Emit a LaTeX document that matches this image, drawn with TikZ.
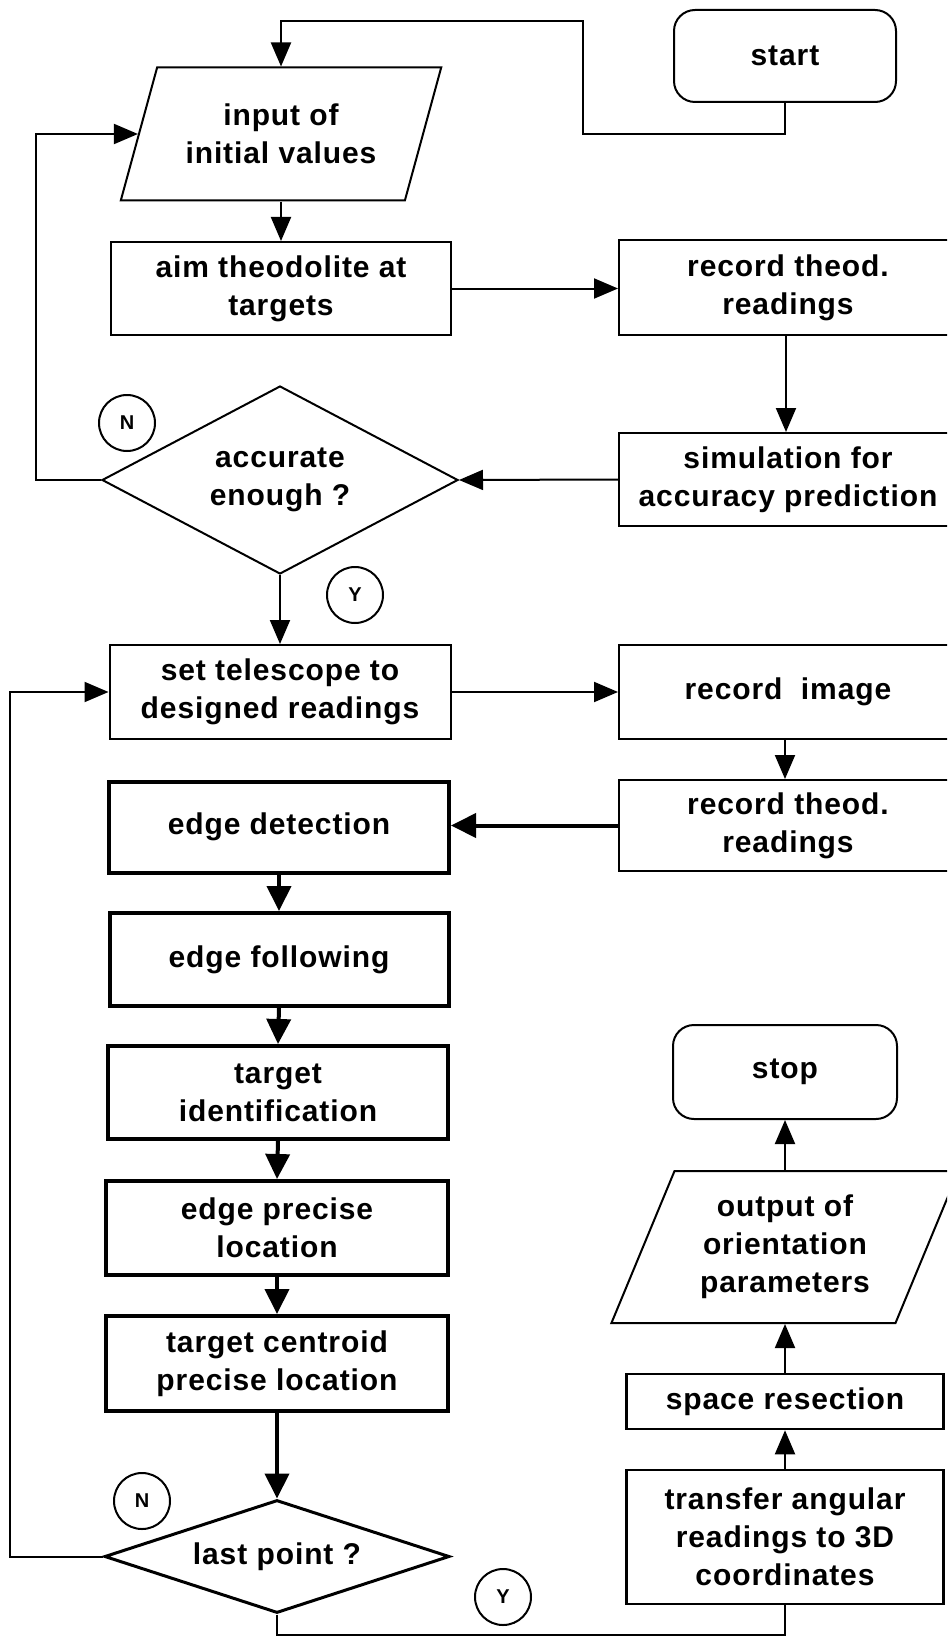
\documentclass[tikz,border=0pt]{standalone}
\usepackage{fontspec}
\setmainfont{Liberation Sans}[LetterSpace=3]
\usetikzlibrary{shapes.geometric,arrows.meta}

\tikzset{
  lbl/.style={font=\fontsize{30}{38}\selectfont\bfseries, align=center, inner sep=0pt},
  box/.style={lbl, draw, line width=2pt, rectangle},
  heavybox/.style={lbl, draw, line width=4pt, rectangle},
  term/.style={box, rounded corners=21pt},
  io/.style={lbl, draw, line width=2pt, trapezium, trapezium left angle=65,
    trapezium right angle=115, trapezium stretches=true},
  decision/.style={lbl, draw, diamond},
  flag/.style={draw, circle, line width=2pt, minimum size=56pt, inner sep=0pt,
    font=\fontsize{20}{20}\selectfont\bfseries},
  flow/.style={line width=2pt, -{Triangle[length=24pt,width=20pt]}},
  heavyflow/.style={line width=4pt, -{Triangle[length=25pt,width=24pt]}},
  plain/.style={line width=2pt}
}

\begin{document}
\begin{tikzpicture}[x=1pt,y=-1pt]
\useasboundingbox (0,0) rectangle (947,1637);
\clip (0,0) rectangle (947,1637);
\fill[white] (0,0) rectangle (947,1637);

% ---- upper loop: set-up of the theodolite ----
\node[term, minimum width=222pt, minimum height=92pt] (start) at (785,56) {start};
\node[io, minimum width=321pt, minimum height=133pt] (input) at (281,134) {input of\\initial values};
\node[box, minimum width=340pt, minimum height=93pt] (aim) at (281,288.5) {aim theodolite at\\targets};
\node[box, minimum width=338pt, minimum height=95pt] (rec1) at (788,287.5) {record theod.\\readings};
\node[box, minimum width=338pt, minimum height=93pt] (sim) at (788,479.5) {simulation for\\accuracy prediction};
\node[decision, aspect=1.9, line width=2pt, minimum width=356pt, minimum height=188pt] (acc) at (280,480) {accurate\\enough ?};
\node[flag] (n1) at (127,423) {N};
\node[flag] (y1) at (355,595) {Y};

% ---- measuring loop ----
\node[box, minimum width=341pt, minimum height=94pt] (set) at (280,692) {set telescope to\\designed readings};
\node[box, minimum width=338pt, minimum height=94pt] (recimg) at (788,692) {record~~image};
\node[box, minimum width=338pt, minimum height=91pt] (rec2) at (788,825.5) {record theod.\\readings};
\node[heavybox, minimum width=340pt, minimum height=91pt] (edet) at (279,827) {edge detection};
\node[heavybox, minimum width=339pt, minimum height=93pt] (efol) at (279,959.5) {edge following};
\node[heavybox, minimum width=340pt, minimum height=93pt] (tid) at (278,1092.5) {target\\identification};
\node[heavybox, minimum width=342pt, minimum height=94pt] (epl) at (277,1228) {edge precise\\location};
\node[heavybox, minimum width=342pt, minimum height=95pt] (tcp) at (277,1363.5) {target centroid\\precise location};
\node[decision, aspect=3, line width=3pt, minimum width=345pt, minimum height=113pt] (last) at (277,1556.5) {last point ?};
\node[flag] (n2) at (142,1501) {N};
\node[flag] (y2) at (503,1597) {Y};

% ---- orientation output ----
\node[box, line width=2.5pt, minimum width=317pt, minimum height=134pt] (xfer) at (785,1537) {transfer angular\\readings to 3D\\coordinates};
\node[box, line width=2.5pt, minimum width=317pt, minimum height=55pt] (space) at (785,1401.5) {space resection};
\node[io, minimum width=348pt, minimum height=152pt] (output) at (785,1247) {output of\\orientation\\parameters};
\node[term, minimum width=224pt, minimum height=94pt] (stop) at (785,1072) {stop};

% routing points
\coordinate (s1) at (583,134);
\coordinate (s2) at (583,21);
\coordinate (l1) at (36,134);
\coordinate (l2) at (10,692);
\coordinate (b1) at (0,1635);

% connectors, upper part
\draw[flow] (start.south) |- (s1) -- (s2) -| (input.center |- input.north);
\draw[flow] (input.center |- input.south) -- (aim.north);
\draw[flow] (aim.east) -- (aim.east -| rec1.west);
\draw[flow] (rec1.south -| 786,0) -- (sim.north -| 786,0);
\draw[flow] (sim.west) -- (acc.east);
\draw[flow] (acc.west) -- (acc.west -| l1) |- (input.west);
\draw[flow] (acc.south) -- (set.north);

% connectors, measuring loop
\draw[flow] (set.east) -- (recimg.west);
\draw[flow] (recimg.south -| 785,0) -- (rec2.north -| 785,0);
\draw[heavyflow] (rec2.west) -- (rec2.west -| edet.east);
\draw[heavyflow] (edet.south) -- (efol.north);
\draw[heavyflow] (efol.south) -- (tid.north);
\draw[heavyflow] (tid.south) -- (epl.north);
\draw[heavyflow] (epl.south) -- (tcp.north);
\draw[heavyflow] (tcp.south) -- (last.north);
\draw[flow] (last.west) -- (last.west -| l2) |- (set.west);

% connectors, output branch
\draw[plain] (last.south) -- (last.south |- b1) -| (xfer.south);
\draw[flow] (xfer.north) -- (space.south);
\draw[flow] (space.north) -- (output.center |- output.south);
\draw[flow] (output.center |- output.north) -- (stop.south);
\end{tikzpicture}
\end{document}
